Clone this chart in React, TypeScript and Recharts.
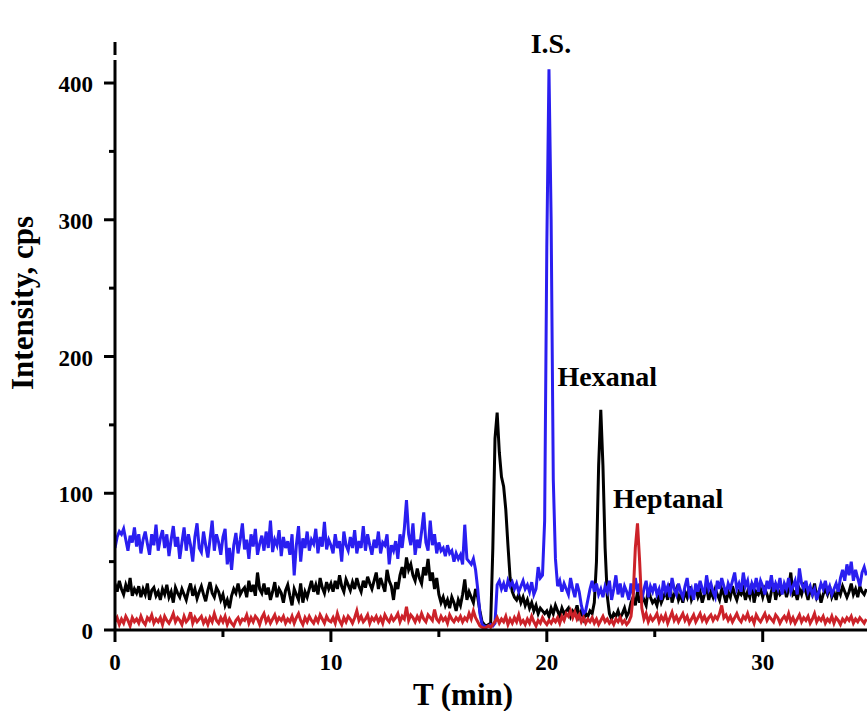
import { LineChart, Line, XAxis, YAxis, ReferenceDot } from "recharts";

// sampled every 0.1 min starting at 0
const STEP = 0.1;

const blue = [
  60, 68, 72, 70, 74, 66, 58, 69, 64, 75,
  61, 70, 56, 66, 72, 63, 55, 70, 62, 77,
  58, 67, 73, 60, 70, 54, 66, 76, 61, 68,
  52, 64, 75, 58, 70, 62, 50, 68, 78, 60,
  57, 72, 62, 53, 66, 80, 58, 70, 64, 55,
  68, 74, 48, 60, 44, 62, 71, 56, 66, 78,
  59, 66, 52, 70, 61, 74, 55, 63, 69, 58,
  72, 60, 80, 57, 66, 62, 73, 54, 68, 60,
  65, 55, 70, 40, 62, 76, 50, 67, 60, 72,
  58, 66, 63, 74, 56, 68, 61, 79, 59, 66,
  62, 56, 70, 60, 65, 50, 72, 62, 58, 68,
  60, 73, 56, 65, 60, 76, 58, 70, 62, 55,
  66, 60, 72, 56, 64, 62, 70, 48, 62, 58,
  65, 52, 70, 60, 74, 95, 70, 62, 78, 55,
  66, 60, 72, 86, 64, 58, 80, 62, 70, 56,
  64, 58, 60, 54, 62, 56, 58, 50, 56, 52,
  55, 48, 77, 52, 50, 48, 52, 44, 30, 12,
  4, 3, 2, 3, 4, 3, 5, 33, 36, 30,
  34, 28, 36, 32, 35, 30, 34, 28, 32, 36,
  30, 33, 28, 35, 26, 30, 46, 38, 40, 80,
  280, 410, 300, 110, 52, 32, 36, 28, 34, 30,
  26, 38, 30, 24, 34, 28, 18, 12, 14, 22,
  30, 36, 28, 34, 26, 30, 24, 32, 28, 36,
  22, 30, 40, 26, 34, 24, 32, 28, 22, 34,
  26, 38, 28, 34, 22, 30, 36, 24, 32, 28,
  34, 26, 30, 22, 36, 28, 32, 24, 38, 30,
  26, 34, 28, 24, 32, 38, 26, 30, 22, 34,
  28, 36, 30, 26, 40, 30, 34, 28, 24, 36,
  30, 38, 32, 26, 34, 30, 36, 42, 30, 34,
  28, 42, 32, 36, 26, 34, 30, 38, 28, 36,
  32, 26, 36, 30, 40, 28, 34, 30, 38, 26,
  34, 30, 38, 28, 32, 36, 26, 45, 34, 30,
  36, 28, 32, 26, 30, 22, 28, 34, 30, 36,
  28, 32, 26, 30, 34, 28, 38, 44, 36, 48,
  40, 50, 36, 44, 38, 32, 42, 46, 40,
];

const black = [
  34, 28, 36, 30, 26, 33, 28, 38, 25, 30,
  27, 32, 24, 30, 26, 34, 22, 29, 31, 25,
  28, 22, 30, 26, 33, 24, 28, 20, 31, 27,
  24, 30, 26, 22, 29, 34, 25, 30, 23, 28,
  32, 26, 21, 29, 35, 27, 24, 31, 28, 22,
  26, 18, 22, 16, 25, 30, 27, 34, 26, 29,
  31, 24, 36, 28, 33, 25, 42, 30, 27, 34,
  26, 31, 22, 28, 35, 24, 30, 27, 20, 29,
  33, 25, 18, 30, 26, 22, 34, 20, 28, 24,
  30, 36, 28, 33, 26, 38, 31, 27, 35, 30,
  34, 28, 36, 30, 40, 32, 28, 37, 33, 29,
  35, 30, 38, 32, 28, 36, 31, 39, 34, 30,
  36, 42, 30, 38, 33, 28, 44, 36, 32, 22,
  35, 30, 40, 46, 38, 53, 44, 48, 40, 36,
  45, 38, 34, 46, 40, 52, 36, 42, 30, 38,
  26, 20, 24, 18, 22, 16, 24, 20, 14, 22,
  18, 26, 37, 22, 28, 24, 20, 30, 24, 14,
  6, 4, 3, 4, 5, 60, 140, 159, 130, 112,
  105, 88, 62, 38, 28, 24, 22, 26, 20, 24,
  18, 22, 16, 20, 14, 18, 12, 16, 14, 12,
  14, 10, 16, 12, 18, 14, 10, 16, 12, 14,
  16, 10, 14, 12, 18, 10, 14, 8, 12, 10,
  14, 12, 20, 50, 120, 161, 120, 60, 25, 12,
  8, 12, 10, 14, 9, 12, 16, 10, 13, 20,
  24, 18, 28, 20, 26, 22, 18, 30, 24, 20,
  22, 18, 26, 20, 24, 28, 22, 34, 20, 26,
  30, 22, 26, 20, 28, 24, 32, 22, 26, 30,
  24, 28, 20, 26, 32, 22, 28, 24, 30, 26,
  22, 30, 26, 20, 28, 24, 32, 26, 22, 28,
  26, 30, 22, 28, 24, 34, 20, 28, 26, 30,
  24, 30, 26, 20, 28, 34, 22, 30, 26, 28,
  32, 24, 30, 42, 26, 28, 22, 30, 26, 32,
  28, 22, 30, 26, 34, 24, 28, 20, 26, 30,
  26, 32, 24, 28, 22, 30, 26, 32, 28, 24,
  28, 34, 26, 30, 24, 32, 28, 26, 30,
];

const red = [
  6, 9, 4, 8, 5, 10, 7, 3, 9, 6,
  8, 5, 10, 6, 4, 9, 7, 11, 5, 8,
  6, 9, 4, 10, 7, 5, 8, 12, 6, 9,
  7, 4, 10, 6, 8, 13, 5, 9, 6, 8,
  10, 5, 8, 4, 9, 6, 12, 7, 5, 9,
  6, 10, 4, 8, 5, 3, 7, 9, 5, 8,
  7, 11, 5, 9, 6, 10, 8, 4, 9, 12,
  6, 9, 5, 8, 11, 6, 9, 7, 10, 5,
  8, 6, 10, 5, 9, 12, 7, 4, 9, 6,
  10, 7, 5, 9, 6, 11, 8, 5, 10, 7,
  6, 9, 5, 12, 7, 4, 9, 6, 10, 8,
  5, 9, 14, 7, 10, 6, 8, 11, 5, 9,
  7, 10, 6, 9, 5, 11, 8, 6, 10, 7,
  9, 12, 6, 10, 8, 17, 7, 11, 9, 6,
  10, 7, 12, 8, 6, 11, 9, 7, 15, 8,
  6, 10, 7, 9, 5, 11, 8, 6, 9, 7,
  10, 6, 9, 7, 12, 8, 14, 9, 6, 3,
  2, 1, 2, 3, 2, 4, 6, 9, 5, 8,
  6, 10, 4, 8, 5, 9, 6, 11, 5, 7,
  4, 8, 5, 10, 6, 3, 7, 5, 9, 6,
  4, 7, 5, 8, 6, 9, 5, 10, 7, 12,
  10, 14, 9, 13, 8, 11, 6, 9, 5, 8,
  6, 9, 5, 8, 4, 7, 10, 6, 8, 5,
  7, 4, 8, 6, 9, 5, 7, 4, 6, 10,
  25, 60, 78, 50, 16, 8, 12, 6, 10, 7,
  9, 12, 6, 10, 7, 11, 5, 9, 13, 7,
  10, 6, 9, 12, 7, 10, 5, 8, 11, 6,
  9, 12, 7, 10, 6, 9, 11, 7, 10, 8,
  12, 18, 9, 11, 7, 10, 6, 9, 12, 8,
  6, 10, 8, 12, 7, 9, 5, 11, 8, 6,
  9, 12, 7, 10, 8, 6, 11, 9, 5, 8,
  10, 7, 12, 6, 9, 5, 8, 11, 6, 9,
  7, 10, 5, 8, 12, 6, 9, 7, 10, 5,
  8, 6, 10, 5, 9, 7, 4, 8, 6, 9,
  7, 10, 5, 8, 6, 9, 7, 5, 8,
];

const xTicks = [0, 5, 10, 15, 20, 25, 30];
const yTicks = [0, 50, 100, 150, 200, 250, 300, 350, 400];

const FONT = "'Liberation Serif', 'Times New Roman', serif";

const data = blue.map((b, i) => ({
  t: Number((i * STEP).toFixed(1)),
  blue: b,
  black: black[i],
  red: red[i],
}));

function XTick({ x, y, payload }: any) {
  const major = payload.value % 10 === 0;
  return (
    <g>
      <line x1={x} y1={y} x2={x} y2={y + (major ? 12 : 7)} stroke="#000" strokeWidth={3} />
      {major && (
        <text x={x} y={y + 40} textAnchor="middle" fontFamily={FONT} fontWeight="bold" fontSize={23} fill="#000">
          {payload.value}
        </text>
      )}
    </g>
  );
}

function YTick({ x, y, payload }: any) {
  const major = payload.value % 100 === 0;
  return (
    <g>
      <line x1={x} y1={y} x2={x - (major ? 11 : 6)} y2={y} stroke="#000" strokeWidth={3} />
      {major && (
        <text x={x - 22} y={y + 9} textAnchor="end" fontFamily={FONT} fontWeight="bold" fontSize={23} fill="#000">
          {payload.value}
        </text>
      )}
    </g>
  );
}

function XTitle({ viewBox }: any) {
  return (
    <text x={viewBox.x + 348} y={viewBox.y + 75} textAnchor="middle" fontFamily={FONT} fontWeight="bold" fontSize={31} fill="#000">
      T (min)
    </text>
  );
}

function YTitle({ viewBox }: any) {
  const x = viewBox.x + 33;
  const y = viewBox.y + 261;
  return (
    <text x={x} y={y} transform={`rotate(-90, ${x}, ${y})`} textAnchor="middle" fontFamily={FONT} fontWeight="bold" fontSize={31} fill="#000">
      Intensity, cps
    </text>
  );
}

function PeakLabel({ viewBox, text, anchor }: any) {
  const cx = viewBox.x + viewBox.width / 2;
  const cy = viewBox.y + viewBox.height / 2;
  return (
    <text x={cx} y={cy} textAnchor={anchor} fontFamily={FONT} fontWeight="bold" fontSize={28} fill="#000">
      {text}
    </text>
  );
}

export default function App() {
  return (
    <div style={{ position: "absolute", left: 0, top: 0, background: "#fff" }}>
      <LineChart width={867} height={711} data={data} margin={{ top: 42, right: 0, bottom: 0, left: 0 }}>
        <XAxis
          type="number"
          dataKey="t"
          domain={[0, 34.83]}
          ticks={xTicks}
          allowDataOverflow
          height={81}
          tickSize={0}
          tickMargin={0}
          tick={<XTick />}
          axisLine={{ stroke: "#000", strokeWidth: 3 }}
          label={<XTitle />}
        />
        <YAxis
          type="number"
          domain={[0, 430]}
          ticks={yTicks}
          allowDataOverflow
          width={115}
          tickSize={0}
          tickMargin={0}
          tick={<YTick />}
          axisLine={{ stroke: "#000", strokeWidth: 3, strokeDasharray: "13 5 1000" }}
          label={<YTitle />}
        />
        <Line dataKey="black" stroke="#000000" strokeWidth={3} dot={false} isAnimationActive={false} />
        <Line dataKey="blue" stroke="#2a1ef0" strokeWidth={3} dot={false} isAnimationActive={false} />
        <Line dataKey="red" stroke="#cc2229" strokeWidth={3} dot={false} isAnimationActive={false} />
        <ReferenceDot x={20.19} y={422} r={1} fill="none" stroke="none" label={<PeakLabel text="I.S." anchor="middle" />} />
        <ReferenceDot x={20.5} y={178.5} r={1} fill="none" stroke="none" label={<PeakLabel text="Hexanal" anchor="start" />} />
        <ReferenceDot x={23.06} y={89.2} r={1} fill="none" stroke="none" label={<PeakLabel text="Heptanal" anchor="start" />} />
      </LineChart>
    </div>
  );
}
